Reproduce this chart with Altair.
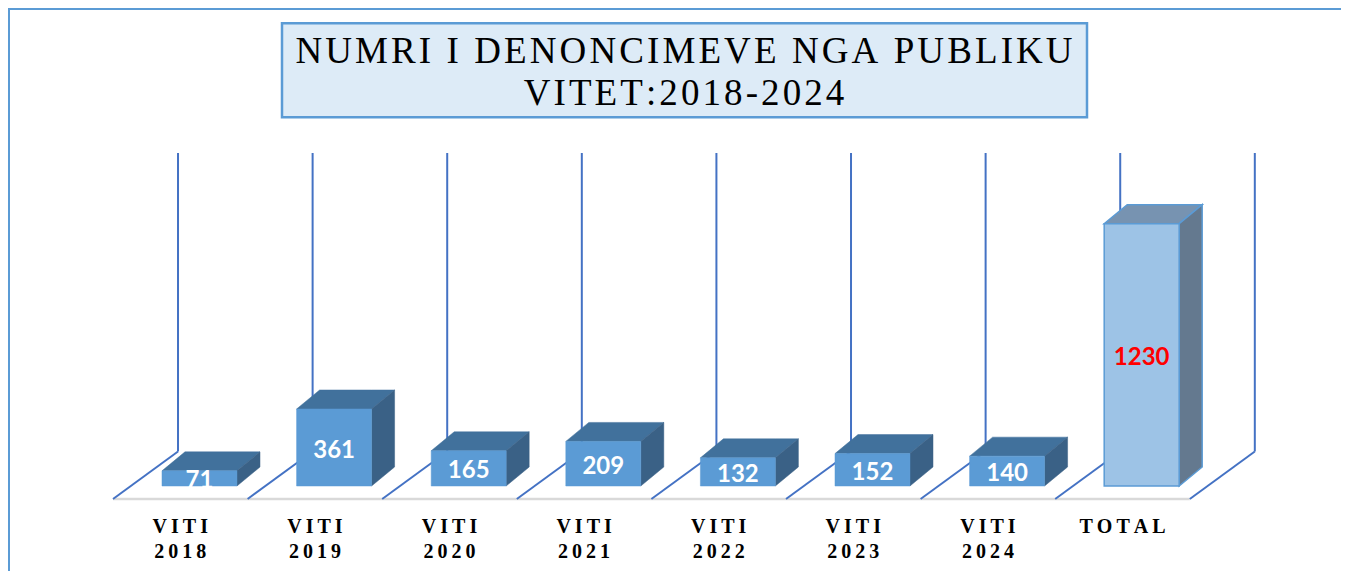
import altair as alt
import pandas as pd

# ---------------- data ----------------
categories = ["VITI 2018", "VITI 2019", "VITI 2020", "VITI 2021",
              "VITI 2022", "VITI 2023", "VITI 2024", "TOTAL"]
values = [71, 361, 165, 209, 132, 152, 140, 1230]
wall_max = 1400
title_lines = ["NUMRI I DENONCIMEVE NGA PUBLIKU", "VITET:2018-2024"]

# ---------------- geometry / style ----------------
W, H = 1333, 563
X_DOMAIN = [-0.7801, 9.1233]      # category units
Y_DOMAIN = [-398.5, 2241.0]       # value units
FLOOR_FRONT = -60.9
FLOOR_DX, FLOOR_DY = 0.483, 222.6
BAR_LEFT, BAR_W = 0.364, 0.557
BAR_DX, BAR_DY = 0.171, 89.1

FRONT, TOP, SIDE = "#5B9BD5", "#41719C", "#3A6186"
T_FRONT, T_TOP, T_SIDE = "#9DC3E6", "#7793B1", "#64798F"

xs = alt.Scale(domain=X_DOMAIN, nice=False, zero=False)
ys = alt.Scale(domain=Y_DOMAIN, nice=False, zero=False)

def X(f):
    return alt.X(f, type="quantitative", scale=xs, axis=None)

def Y(f):
    return alt.Y(f, type="quantitative", scale=ys, axis=None, stack=None)

n = len(categories)

# floor + wall
floor_front = pd.DataFrame([{"x": 0, "x2": n, "y": FLOOR_FRONT}])
diag = pd.DataFrame([{"x": i, "x2": i + FLOOR_DX, "y": FLOOR_FRONT,
                      "y2": FLOOR_FRONT + FLOOR_DY} for i in range(n + 1)])
wall = pd.DataFrame([{"x": i + FLOOR_DX, "y": FLOOR_FRONT + FLOOR_DY,
                      "y2": FLOOR_FRONT + FLOOR_DY + wall_max} for i in range(n + 1)])

floor_layer = alt.Chart(floor_front).mark_rule(color="#D9D9D9", strokeWidth=2.5).encode(
    x=X("x"), x2="x2", y=Y("y"))
diag_layer = alt.Chart(diag).mark_rule(color="#4472C4", strokeWidth=2).encode(
    x=X("x"), x2="x2", y=Y("y"), y2="y2")
wall_layer = alt.Chart(wall).mark_rule(color="#4472C4", strokeWidth=2).encode(
    x=X("x"), y=Y("y"), y2="y2")

# bars
front_rows, poly_rows, label_rows, cat_rows = [], [], [], []
for i, (c, v) in enumerate(zip(categories, values)):
    total = c == "TOTAL"
    fc, tc, sc = (T_FRONT, T_TOP, T_SIDE) if total else (FRONT, TOP, SIDE)
    stroke = FRONT
    sw = 1.5 if total else 0.5
    xl = i + BAR_LEFT
    xr = xl + BAR_W
    front_rows.append({"x": xl, "x2": xr, "y": 0, "y2": v, "fill": fc,
                       "stroke": stroke if total else fc, "sw": sw})
    # top face
    fid = f"top{i}"
    for px, py, py2 in [(xl, v, v), (xl + BAR_DX, v, v + BAR_DY),
                        (xr, v, v + BAR_DY), (xr + BAR_DX, v + BAR_DY, v + BAR_DY)]:
        poly_rows.append({"face": fid, "x": px, "y": py, "y2": py2, "fill": tc,
                          "stroke": stroke if total else tc, "sw": sw})
    # side face
    fid = f"side{i}"
    for px, py, py2 in [(xr, 0, v), (xr + BAR_DX, BAR_DY, v + BAR_DY)]:
        poly_rows.append({"face": fid, "x": px, "y": py, "y2": py2, "fill": sc,
                          "stroke": stroke if total else sc, "sw": sw})
    label_rows.append({"x": (xl + xr) / 2, "y": v / 2, "text": str(v),
                       "color": "#FF0000" if total else "#FFFFFF"})
    lines = c.split(" ")
    cat_rows.append({"x": i + 0.5,
                     "text": "\n".join("\u2009".join(list(w)) for w in lines)})

poly = pd.DataFrame(poly_rows)
side_layer = alt.Chart(poly).mark_area(interpolate="linear").encode(
    x=X("x"), y=Y("y"), y2="y2", detail="face:N",
    color=alt.Color("fill:N", scale=None),
    stroke=alt.Stroke("stroke:N", scale=None),
    strokeWidth=alt.StrokeWidth("sw:Q", scale=None))

front_layer = alt.Chart(pd.DataFrame(front_rows)).mark_rect().encode(
    x=X("x"), x2="x2", y=Y("y"), y2="y2",
    color=alt.Color("fill:N", scale=None),
    stroke=alt.Stroke("stroke:N", scale=None),
    strokeWidth=alt.StrokeWidth("sw:Q", scale=None))

label_layer = alt.Chart(pd.DataFrame(label_rows)).mark_text(
    font="Lato", fontSize=24, fontWeight="bold", baseline="middle", align="center", dy=3
).encode(x=X("x"), y=Y("y"), text="text:N", color=alt.Color("color:N", scale=None))

cat_layer = alt.Chart(pd.DataFrame(cat_rows)).mark_text(
    font="Liberation Serif", fontSize=20, fontWeight="bold", baseline="alphabetic",
    align="center", lineBreak="\n", lineHeight=25, color="#000000"
).encode(x=X("x"), y=alt.value(525.3), text="text:N")

# title box
one = pd.DataFrame([{"k": 0}])
title_box = alt.Chart(one).mark_rect(fill="#DDEBF7", stroke="#5B9BD5", strokeWidth=2.5).encode(
    x=alt.value(274), x2=alt.value(1079), y=alt.value(15.3), y2=alt.value(109.3))
hair = "\u200a"
title_df = pd.DataFrame([{"t": hair.join(list(title_lines[0])), "yy": 0},
                         {"t": hair.join(list(title_lines[1])), "yy": 1}])
title_text1 = alt.Chart(title_df.iloc[[0]]).mark_text(
    font="Liberation Serif", fontSize=37, baseline="alphabetic", align="center", color="#000000"
).encode(x=alt.value(676), y=alt.value(54.7), text="t:N")
title_text2 = alt.Chart(title_df.iloc[[1]]).mark_text(
    font="Liberation Serif", fontSize=37, baseline="alphabetic", align="center", color="#000000"
).encode(x=alt.value(676), y=alt.value(97), text="t:N")

# outer border
border_top = alt.Chart(one).mark_rule(color="#5B9BD5", strokeWidth=2).encode(
    x=alt.value(0), x2=alt.value(W), y=alt.value(1))
border_left = alt.Chart(one).mark_rule(color="#5B9BD5", strokeWidth=2).encode(
    x=alt.value(1), y=alt.value(0), y2=alt.value(H))

chart = alt.layer(
    border_top, border_left, floor_layer, diag_layer, wall_layer,
    side_layer, front_layer, label_layer, cat_layer,
    title_box, title_text1, title_text2
).properties(
    width=W, height=H, autosize=alt.AutoSizeParams(type="none"), padding=0,
    background="#FFFFFF"
).configure_view(stroke=None)

chart.save("out.html", embed_options={"renderer": "svg", "actions": False})
